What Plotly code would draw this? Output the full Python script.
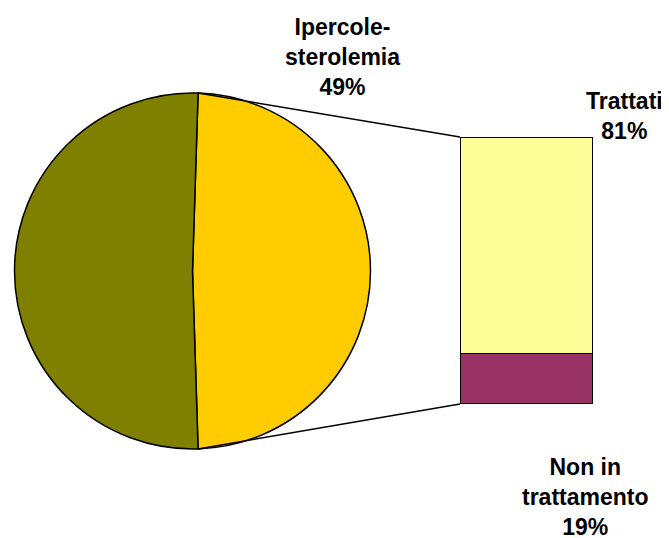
import math
import plotly.graph_objects as go

# page has an 8px body margin, so the figure is a bit smaller than the window
OFF = 8
W, H = 669 - OFF, 538 - OFF

# pie: share of the population
pie_labels = ["Ipercole-<br>sterolemia", "Altri"]
pie_values = [49, 51]
pie_colors = ["#FFCC00", "#808000"]

# bar: breakdown of the 49% slice
bar_labels = ["Non in<br>trattamento", "Trattati"]
bar_values = [19, 81]
bar_colors = ["#993366", "#FFFF99"]


def fx(x):
    return (x - OFF) / W


def fy(y):
    return 1 - (y - OFF) / H


pie_dom_x = [fx(14), fx(371)]
pie_dom_y = [fy(449), fy(93)]
bar_dom_x = [fx(460), fx(593)]
bar_dom_y = [fy(404), fy(137)]

# first slice centred on 3 o'clock
rotation = 90 - 180 * pie_values[0] / sum(pie_values)

fig = go.Figure()
fig.add_trace(go.Pie(labels=pie_labels, values=pie_values, sort=False,
                     direction="clockwise", rotation=rotation,
                     marker=dict(colors=pie_colors,
                                 line=dict(color="black", width=1.5)),
                     textinfo="none", hoverinfo="label+percent",
                     domain=dict(x=pie_dom_x, y=pie_dom_y),
                     showlegend=False))

for lab, val, col in zip(bar_labels, bar_values, bar_colors):
    fig.add_trace(go.Bar(x=[0], y=[val], name=lab, width=1,
                         marker=dict(color=col,
                                     line=dict(color="black", width=1.5)),
                         showlegend=False))

# connector lines: slice edges -> bar corners
cx = (pie_dom_x[0] + pie_dom_x[1]) / 2 * W
cy = (1 - (pie_dom_y[0] + pie_dom_y[1]) / 2) * H
r = min((pie_dom_x[1] - pie_dom_x[0]) * W, (pie_dom_y[1] - pie_dom_y[0]) * H) / 2
a0 = math.radians(rotation)
a1 = math.radians(rotation + 360 * pie_values[0] / sum(pie_values))
shapes = []
for a, by in [(a0, bar_dom_y[1]), (a1, bar_dom_y[0])]:
    px_ = cx + r * math.sin(a)
    py_ = cy - r * math.cos(a)
    shapes.append(dict(type="line", xref="paper", yref="paper",
                       x0=px_ / W, y0=1 - py_ / H, x1=bar_dom_x[0], y1=by,
                       line=dict(color="black", width=1.5)))

fnt = dict(family="Arial, Liberation Sans, sans-serif", size=23, color="black")
annotations = [
    dict(x=fx(343), y=fy(57), xref="paper", yref="paper",
         text="<b>{0}<br>{1}%</b>".format(pie_labels[0], pie_values[0]),
         showarrow=False, font=fnt, xanchor="center", yanchor="middle"),
    dict(x=fx(624), y=fy(116), xref="paper", yref="paper",
         text="<b>{0}<br>{1}%</b>".format(bar_labels[1], bar_values[1]),
         showarrow=False, font=fnt, xanchor="center", yanchor="middle"),
    dict(x=fx(585), y=fy(497), xref="paper", yref="paper",
         text="<b>{0}<br>{1}%</b>".format(bar_labels[0], bar_values[0]),
         showarrow=False, font=fnt, xanchor="center", yanchor="middle"),
]

fig.update_layout(width=W, height=H, barmode="stack",
                  margin=dict(l=0, r=0, t=0, b=0),
                  paper_bgcolor="white", plot_bgcolor="white",
                  xaxis=dict(domain=bar_dom_x, range=[-0.5, 0.5], visible=False),
                  yaxis=dict(domain=bar_dom_y, range=[0, 100], visible=False),
                  shapes=shapes, annotations=annotations)

fig.write_html("out.html")
